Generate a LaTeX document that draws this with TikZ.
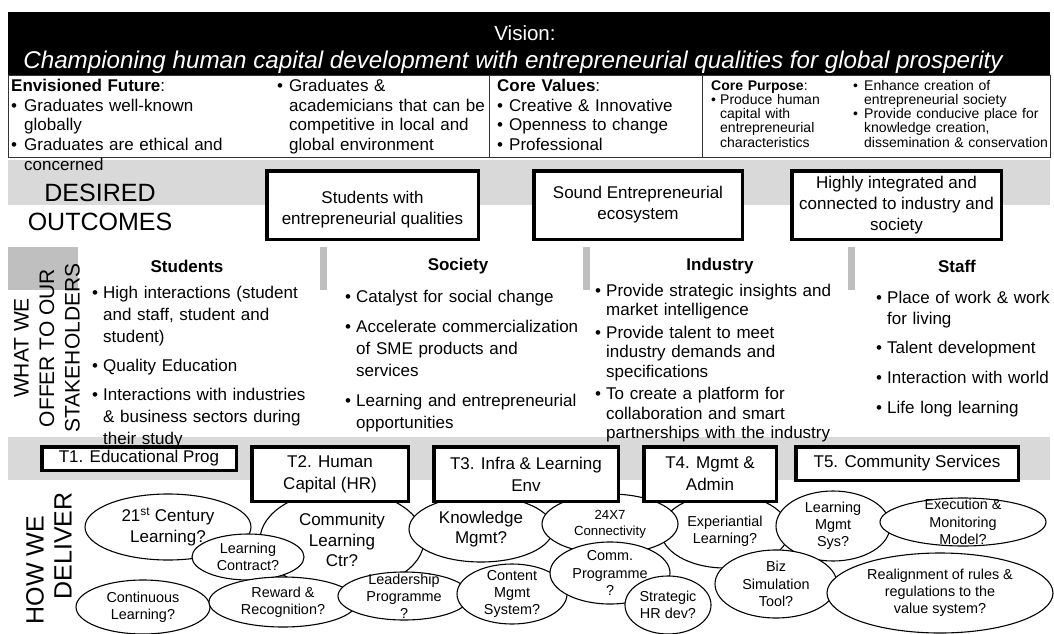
\documentclass[tikz,border=0pt]{standalone}
\usepackage{fontspec}
\setmainfont{Liberation Sans}
\pgfdeclarelayer{background}
\pgfdeclarelayer{bubbles}
\pgfdeclarelayer{foreground}
\pgfsetlayers{background,bubbles,main,foreground}
\newcommand{\fsVis}{\fontsize{20.5}{24}\selectfont}
\newcommand{\fsMission}{\fontsize{24.2}{28}\selectfont\itshape}
\newcommand{\fsBox}{\fontsize{17}{19.7}\selectfont}
\newcommand{\fsPurp}{\fontsize{14}{14.3}\selectfont}
\newcommand{\fsBig}{\fontsize{25}{29}\selectfont}
\newcommand{\fsSide}{\fontsize{21}{25.5}\selectfont}
\newcommand{\fsNorm}{\fontsize{17}{21}\selectfont}
\newcommand{\fsStud}{\fontsize{17}{22}\selectfont}
\newcommand{\fsInd}{\fontsize{17}{19.5}\selectfont}
\newcommand{\fsThrust}{\fontsize{17}{22}\selectfont}
\newcommand{\fsBubA}{\fontsize{17}{20.5}\selectfont}
\newcommand{\fsBubB}{\fontsize{14.4}{17.2}\selectfont}
\newcommand{\fsBubC}{\fontsize{13.2}{16}\selectfont}
\newcommand{\bu}[1][12pt]{\makebox[#1][l]{\textbullet}}
\newcommand{\ind}[1][12pt]{\hspace*{#1}}
\tikzstyle{band}=[fill=black!15]
\tikzstyle{tab}=[fill=black!25]
\tikzstyle{list}=[inner sep=0pt, anchor=base west, text width=300pt, align=left]
\tikzstyle{heading}=[inner sep=0pt, font=\fsNorm\bfseries]
\tikzstyle{outcome}=[draw, line width=3.5pt, fill=white, inner sep=0pt,
	align=center, font=\fsNorm]
\tikzstyle{thrust}=[outcome, font=\fsThrust]
\tikzstyle{side}=[rotate=90, align=center, inner sep=0pt]
\tikzstyle{bubA}=[align=center, inner sep=0pt, font=\fsBubA]
\tikzstyle{bubB}=[align=center, inner sep=0pt, font=\fsBubB]
\tikzstyle{bubC}=[align=center, inner sep=0pt, font=\fsBubC]
% name, style, x, y, x radius, y radius, text
\newcommand{\bubble}[7]{%
	\begin{pgfonlayer}{bubbles}
		\path[draw, line width=1.1pt, fill=white] (#3,#4) ellipse ({#5} and {#6});
	\end{pgfonlayer}
	\node[#2] (#1) at (#3,#4) {#7};}
\begin{document}
\begin{tikzpicture}[x=1pt, y=-1pt]
	\useasboundingbox (0,0) rectangle (1054,634);
	\begin{pgfonlayer}{background}
		\fill[white] (0,0) rectangle (1054,634);
		\path[band] (8,160) rectangle (1050,205);
		\path[band] (8,437) rectangle (1050,480);
		\path[tab] (8,247) rectangle (78,290);
		\path[tab] (320,247) rectangle (327,290);
		\path[tab] (583,247) rectangle (590,290);
		\path[tab] (848,247) rectangle (855,290);
	\end{pgfonlayer}

	% Vision band
	\fill (8,12) rectangle (1050,75);
	\node[font=\fsVis, text=white] (vis) at (525,33) {Vision:};
	\node[font=\fsMission, text=white] (mission) at (513,62)
		{Championing human capital development with entrepreneurial qualities for global prosperity};

	% Envisioned future, core values, core purpose
	\draw[line width=0.8pt, draw=black!80] (8,75) rectangle (1050,157);
	\draw[line width=0.8pt, draw=black!80] (489,75) -- (489,157);
	\draw[line width=0.8pt, draw=black!80] (702,75) -- (702,157);
	\node[list, font=\fsBox] (future) at (11,91.5) {\textbf{Envisioned Future}:\\
		\bu[13pt]Graduates well-known\\ \ind[13pt]globally\\
		\bu[13pt]Graduates are ethical and\\ \ind[13pt]concerned};
	\node[list, font=\fsBox] (future2) at (277,91.5) {\bu Graduates \&\\
		\ind academicians that can be\\ \ind competitive in local and\\ \ind global environment};
	\node[list, font=\fsBox] (values) at (497,91.5) {\textbf{Core Values}:\\
		\bu Creative \& Innovative\\ \bu Openness to change\\ \bu Professional};
	\node[list, font=\fsPurp] (purpose) at (711,90) {\textbf{Core Purpose}:\\
		\bu[9pt]Produce human\\ \ind[9pt]capital with\\ \ind[9pt]entrepreneurial\\ \ind[9pt]characteristics};
	\node[list, font=\fsPurp] (purpose2) at (853,90) {\bu[11pt]Enhance creation of\\
		\ind[11pt]entrepreneurial society\\ \bu[11pt]Provide conducive place for\\
		\ind[11pt]knowledge creation,\\ \ind[11pt]dissemination \& conservation};

	% Desired outcomes
	\node[align=center, inner sep=0pt, font=\fsBig] (desired) at (100,207.5) {DESIRED\\OUTCOMES};
	\node[outcome, minimum width=211.5pt, minimum height=68.5pt] (o1) at (372.5,205)
		{\mbox{}\\Students with\\entrepreneurial qualities};
	\node[outcome, minimum width=208.5pt, minimum height=68.5pt] (o2) at (638,205)
		{Sound Entrepreneurial\\ecosystem};
	\node[outcome, minimum width=209.5pt, minimum height=68.5pt] (o3) at (896.5,205)
		{Highly integrated and\\connected to industry and\\society};

	% What we offer to our stakeholders
	\node[side, font=\fsSide] (offer) at (47,348) {WHAT WE\\OFFER TO OUR\\STAKEHOLDERS};
	\node[heading] (hstud) at (187,266) {Students};
	\node[heading] (hsoc) at (458,266) {Society};
	\node[heading] (hind) at (720,266) {Industry};
	\node[heading] (hstaff) at (957,266) {Staff};
	\node[list, font=\fsStud] (stud) at (92,298) {\bu[11pt]High interactions (student\\
		\ind[11pt]and staff, student and\\ \ind[11pt]student)\\[7pt]
		\bu[11pt]Quality Education\\[7pt]
		\bu[11pt]Interactions with industries\\ \ind[11pt]\& business sectors during\\
		\ind[11pt]their study};
	\node[list, font=\fsStud] (soc) at (345,302) {\bu[11pt]Catalyst for social change\\[8pt]
		\bu[11pt]Accelerate commercialization\\ \ind[11pt]of SME products and\\
		\ind[11pt]services\\[8pt]
		\bu[11pt]Learning and entrepreneurial\\ \ind[11pt]opportunities};
	\node[list, font=\fsInd] (ind) at (595,296) {\bu[11pt]Provide strategic insights and\\
		\ind[11pt]market intelligence\\[3pt]
		\bu[11pt]Provide talent to meet\\ \ind[11pt]industry demands and\\
		\ind[11pt]specifications\\[3pt]
		\bu[11pt]To create a platform for\\ \ind[11pt]collaboration and smart\\
		\ind[11pt]partnerships with the industry};
	\node[list, font=\fsNorm] (staff) at (876,303) {\bu[11pt]Place of work \& work\\
		\ind[11pt]for living\\[8pt]
		\bu[11pt]Talent development\\[9pt]
		\bu[11pt]Interaction with world\\[9pt]
		\bu[11pt]Life long learning};

	% How we deliver
	\node[side, font=\fsBig] (how) at (35,570) {HOW WE};
	\node[side, font=\fsBig] (deliver) at (63,546) {DELIVER};
	\bubble{comm}{bubA}{342}{540}{82}{50}{Community\\Learning\\Ctr?}
	\bubble{cent}{bubA}{168}{527}{83}{33}{21\textsuperscript{st} Century\\Learning?}
	\bubble{know}{bubA}{481}{529}{72}{33}{Knowledge\\Mgmt?}
	\bubble{expe}{bubB}{725}{531}{64}{37}{Experiantial\\Learning?}
	\bubble{conn}{bubC}{610}{524}{68}{30}{24X7\\Connectivity}
	\bubble{lms}{bubB}{833}{526}{57}{35}{Learning\\Mgmt\\Sys?}
	\bubble{exec}{bubB}{963}{522}{83}{24}{Execution \&\\Monitoring\\Model?}
	\bubble{contr}{bubB}{248}{557}{56}{23}{Learning\\Contract?}
	\bubble{cont}{bubB}{143}{607}{67}{27}{Continuous\\Learning?}
	\bubble{rew}{bubB}{283}{602}{74}{25}{Reward \&\\Recognition?}
	\bubble{lead}{bubB}{404}{596}{66}{24}{Leadership\\Programme\\?}
	\bubble{cms}{bubB}{512}{594}{55}{30}{Content\\Mgmt\\System?}
	\bubble{prog}{bubB}{610}{573}{60}{31}{Comm.\\Programme\\?}
	\bubble{biz}{bubB}{776}{584}{61}{34}{Biz\\Simulation\\Tool?}
	\bubble{shr}{bubB}{668}{605}{43}{29}{Strategic\\HR dev?}
	\bubble{rules}{bubB}{940}{593}{113}{40}{Realignment of rules \&\\regulations to the\\value system?}

	% Thrusts
	\begin{pgfonlayer}{foreground}
		\node[thrust, minimum width=194.5pt, minimum height=23.5pt] (t1) at (139,458.5) {T1. Educational Prog};
		\node[thrust, minimum width=156.5pt, minimum height=54.5pt] (t2) at (330,474) {T2. Human\\Capital (HR)};
		\node[thrust, minimum width=184.5pt, minimum height=54.5pt] (t3) at (526,474) {T3. Infra \& Learning\\Env};
		\node[thrust, minimum width=132.5pt, minimum height=54.5pt] (t4) at (710,474) {T4. Mgmt \&\\Admin};
		\node[thrust, minimum width=222.5pt, minimum height=33.5pt] (t5) at (907,463.5) {T5. Community Services};
	\end{pgfonlayer}
\end{tikzpicture}
\end{document}
